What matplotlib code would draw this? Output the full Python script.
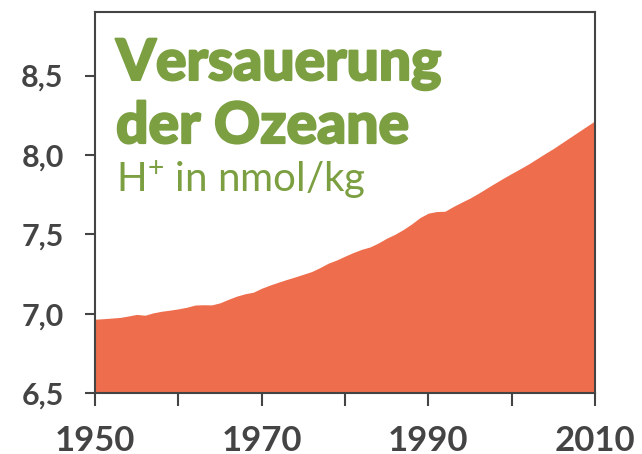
import matplotlib
matplotlib.use("Agg")
import matplotlib.pyplot as plt
import matplotlib.patheffects as pe
import numpy as np

# Data
years = np.arange(1950, 2011)
h_ion = [
    6.965, 6.968, 6.972, 6.976, 6.985, 6.995, 6.990, 7.005, 7.015, 7.022,
    7.030, 7.040, 7.054, 7.056, 7.055, 7.068, 7.090, 7.110, 7.125, 7.135,
    7.160, 7.180, 7.198, 7.215, 7.231, 7.248, 7.265, 7.290, 7.318, 7.338,
    7.362, 7.385, 7.405, 7.420, 7.445, 7.475, 7.500, 7.530, 7.565, 7.605,
    7.633, 7.643, 7.645, 7.675, 7.702, 7.728, 7.758, 7.790, 7.822, 7.853,
    7.883, 7.912, 7.942, 7.975, 8.008, 8.040, 8.075, 8.110, 8.145, 8.180,
    8.215,
]
x_ticks = [1950, 1960, 1970, 1980, 1990, 2000, 2010]
x_labels = ["1950", "", "1970", "", "1990", "", "2010"]
y_ticks = [6.5, 7.0, 7.5, 8.0, 8.5]
y_labels = ["6,5", "7,0", "7,5", "8,0", "8,5"]
title_lines = ["Versauerung", "der Ozeane"]
subtitle = "H$^{+}$ in nmol/kg"

# Style
FILL = "#EE6D4C"
GREEN = "#7B9F41"
DARK = "#444444"

plt.rcParams["font.family"] = ["Lato", "DejaVu Sans"]
plt.rcParams["mathtext.fontset"] = "custom"
plt.rcParams["mathtext.rm"] = "Lato"
plt.rcParams["mathtext.it"] = "Lato"
plt.rcParams["mathtext.bf"] = "Lato:bold"

fig = plt.figure(figsize=(6.42, 4.54), dpi=100)
ax = fig.add_axes([95 / 642, 61 / 454, 500 / 642, 381 / 454])

ax.fill_between(years, 6.5, h_ion, color=FILL, linewidth=0)
ax.set_xlim(1950, 2010)
ax.set_ylim(6.5, 8.9)

ax.set_xticks(x_ticks)
ax.set_xticklabels(x_labels, fontsize=25, fontweight="bold", color=DARK)
ax.set_yticks(y_ticks)
ax.set_yticklabels(y_labels, fontsize=22, fontweight="bold", color=DARK)
ax.tick_params(axis="x", length=9, width=1.5, color=DARK, pad=14)
ax.tick_params(axis="y", length=7.5, width=1.5, color=DARK, pad=15)
for sp in ax.spines.values():
    sp.set_color(DARK)
    sp.set_linewidth(1.5)

# Title block inside the axes (stroke fattens the glyphs a bit)
fat = [pe.withStroke(linewidth=1.5, foreground=GREEN)]
ax.text(0.042, 0.8215, title_lines[0], transform=ax.transAxes, fontsize=41,
        fontweight=900, color=GREEN, va="baseline", path_effects=fat)
ax.text(0.042, 0.656, title_lines[1], transform=ax.transAxes, fontsize=41,
        fontweight=900, color=GREEN, va="baseline", path_effects=fat)
ax.text(0.042, 0.5276, subtitle, transform=ax.transAxes, fontsize=29,
        color=GREEN, va="baseline")

fig.savefig("out.png", dpi=100)
